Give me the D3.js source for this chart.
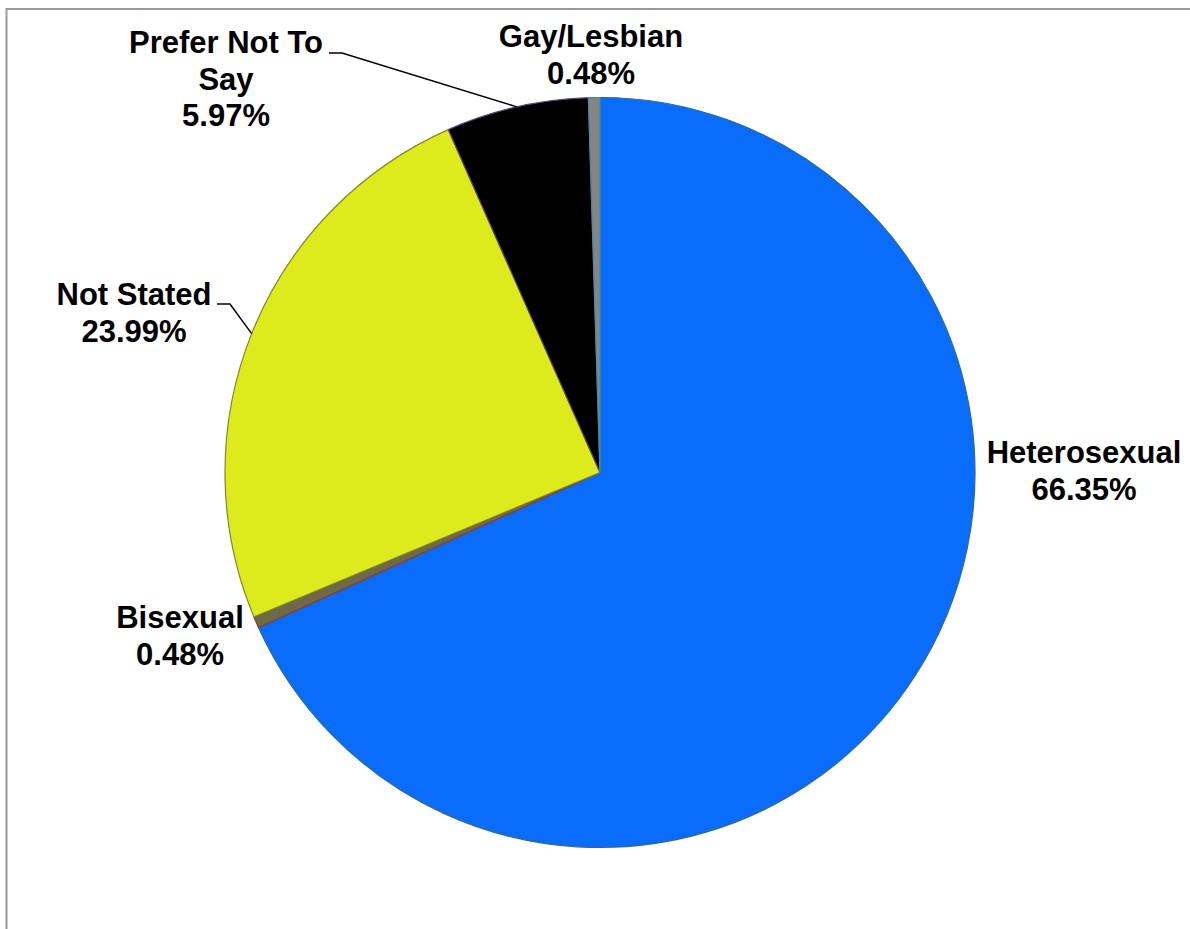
<!DOCTYPE html>
<html>
<head>
<meta charset="utf-8">
<script src="https://cdn.jsdelivr.net/npm/d3@7"></script>
<style>
  html, body { margin: 0; padding: 0; background: #fff; }
  svg { display: block; }
  text { font-family: "Liberation Sans", Arial, sans-serif; font-weight: bold; fill: #000; }
</style>
</head>
<body>
<svg id="chart" width="1190" height="929"></svg>
<script>
// Orientation survey: share of respondents per category, clockwise from 12 o'clock
const categories = ["Heterosexual", "Bisexual", "Not Stated", "Prefer Not To Say", "Gay/Lesbian"];
const values = [66.35, 0.48, 23.99, 5.97, 0.48];
const labelLines = [["Heterosexual"], ["Bisexual"], ["Not Stated"], ["Prefer Not To", "Say"], ["Gay/Lesbian"]];
const fills = ["#0A6CFA", "#6E6947", "#DDEA1C", "#000000", "#858585"];
const strokes = ["#2F6A8C", "#8A3A32", "#7C8A2E", "#5B4480", "#3F8FA0"];

const svg = d3.select("#chart");
const cx = 600, cy = 472.5, R = 375;

// outer frame (runs off the right and bottom edges)
svg.append("rect")
  .attr("x", 6.5).attr("y", 9).attr("width", 1300).attr("height", 1100)
  .attr("fill", "none").attr("stroke", "#9a9a9a").attr("stroke-width", 2);

const data = categories.map((c, i) => ({ name: c, value: values[i], lines: labelLines[i], i }));

const pie = d3.pie().sort(null).value(d => d.value);
const arcs = pie(data);
const arc = d3.arc().innerRadius(0).outerRadius(R);

const g = svg.append("g").attr("transform", `translate(${cx},${cy})`);
g.selectAll("path.slice").data(arcs).join("path")
  .attr("class", "slice")
  .attr("d", arc)
  .attr("fill", d => fills[d.data.i])
  .attr("stroke", d => strokes[d.data.i])
  .attr("stroke-width", 1.2)
  .attr("stroke-linejoin", "round");

// label placement per slice: text centre x, first baseline, optional leader start/knee
const fontSize = 31, lineGap = 36.5;
const labelPos = {
  "Heterosexual": { x: 1084, y: 463 },
  "Bisexual": { x: 180, y: 628 },
  "Not Stated": { x: 134, y: 305, leader: { from: [217, 304], knee: [230, 304] } },
  "Prefer Not To Say": { x: 226, y: 53, leader: { from: [329, 53], knee: [342, 53] } },
  "Gay/Lesbian": { x: 591, y: 47 }
};

const pct = d3.format(".2f");

// leader lines run to the rim at the slice's mid-angle
arcs.forEach(a => {
  const p = labelPos[a.data.name];
  if (!p.leader) return;
  const ang = (a.startAngle + a.endAngle) / 2;
  const end = [cx + R * Math.sin(ang), cy - R * Math.cos(ang)];
  svg.append("polyline")
    .attr("points", [p.leader.from, p.leader.knee, end].map(q => q.join(",")).join(" "))
    .attr("fill", "none").attr("stroke", "#000").attr("stroke-width", 1.5);
});

const labels = svg.append("g");
data.forEach(d => {
  const p = labelPos[d.name];
  const lines = d.lines.concat([pct(d.value) + "%"]);
  const t = labels.append("text")
    .attr("text-anchor", "middle")
    .attr("font-size", fontSize);
  lines.forEach((ln, k) => {
    t.append("tspan").attr("x", p.x).attr("y", p.y + k * lineGap).text(ln);
  });
});
</script>
</body>
</html>
